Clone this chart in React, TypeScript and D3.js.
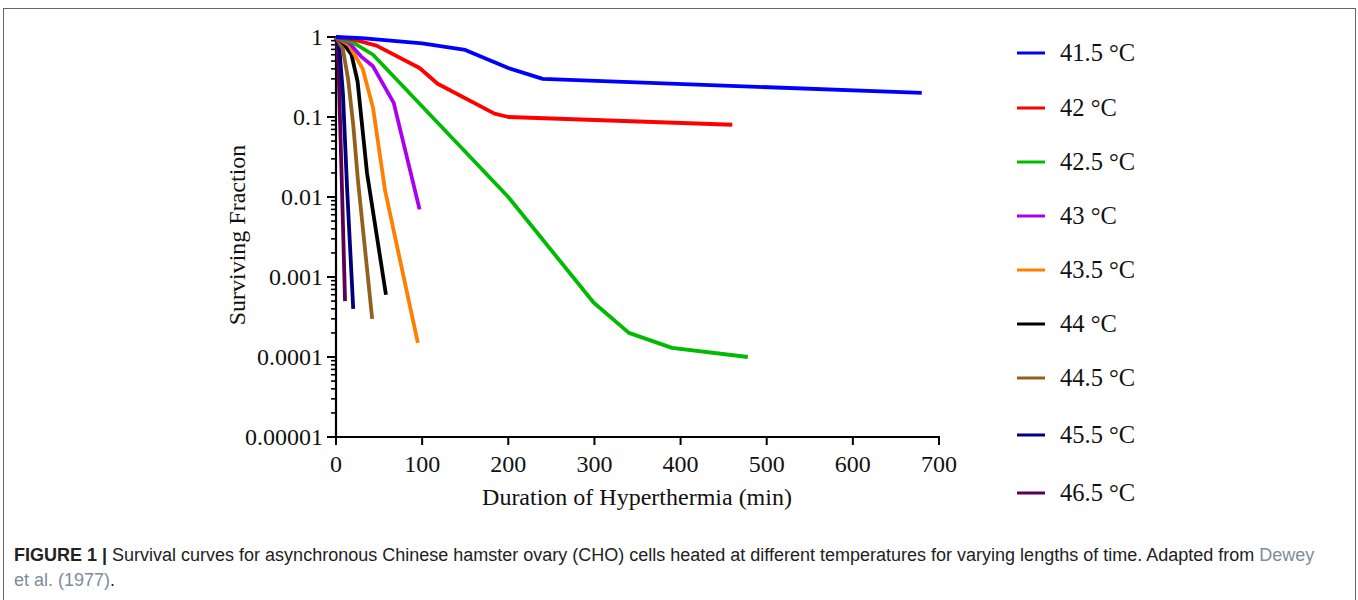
import React, { useRef, useEffect } from 'react';
import * as d3 from 'd3';

// survival data, [minutes, surviving fraction]
const t415 = [[0, 1], [30, 0.97], [100, 0.83], [150, 0.69], [200, 0.41], [240, 0.3], [680, 0.2]];
const t42 = [[0, 1], [20, 0.93], [47, 0.78], [97, 0.41], [118, 0.26], [184, 0.11], [200, 0.1], [460, 0.08]];
const t425 = [[0, 1], [20, 0.85], [43, 0.6], [200, 0.01], [299, 0.00048], [340, 0.0002], [390, 0.00013], [478, 0.0001]];
const t43 = [[0, 1], [15, 0.85], [30, 0.56], [43, 0.43], [67, 0.15], [97, 0.007]];
const t435 = [[0, 1], [15, 0.8], [31, 0.4], [43, 0.13], [57, 0.012], [95, 0.00015]];
const t44 = [[0, 1], [8, 0.85], [18, 0.6], [25, 0.28], [36, 0.02], [58, 0.0006]];
const t445 = [[0, 1], [8, 0.7], [14, 0.3], [20, 0.08], [25.5, 0.016], [42, 0.0003]];
const t455 = [[0, 1], [4, 0.7], [8, 0.2], [13, 0.012], [20, 0.0004]];
const t465 = [[0, 1], [1, 0.85], [3, 0.4], [7, 0.012], [10.5, 0.0005]];

const seriesNames = ['41.5 °C', '42 °C', '42.5 °C', '43 °C', '43.5 °C', '44 °C', '44.5 °C', '45.5 °C', '46.5 °C'];
const seriesData = [t415, t42, t425, t43, t435, t44, t445, t455, t465];
const seriesColors = ['#0000ff', '#ff0000', '#00bb00', '#aa00ee', '#ff8000', '#000000', '#94601f', '#00007f', '#5c0052'];

const xTicks = [0, 100, 200, 300, 400, 500, 600, 700];
const yTicks = [1, 0.1, 0.01, 0.001, 0.0001, 0.00001];
const yTickLabels = ['1', '0.1', '0.01', '0.001', '0.0001', '0.00001'];

const W = 1358;
const H = 600;
const serif = '"Liberation Serif", "Times New Roman", serif';
const sans = '"Liberation Sans", Arial, sans-serif';

function App() {
  const ref = useRef<SVGSVGElement>(null);

  useEffect(() => {
    if (!ref.current) return;
    const svg = d3.select(ref.current);
    svg.selectAll('*').remove();

    // figure frame
    svg.append('rect')
      .attr('x', 3.5).attr('y', 8.5)
      .attr('width', 1352).attr('height', 620)
      .attr('fill', 'none').attr('stroke', '#666').attr('stroke-width', 1);

    const x = d3.scaleLinear().domain([0, 700]).range([336, 939]);
    const y = d3.scaleLog().domain([0.00001, 1]).range([437, 37]);

    const g = svg.append('g');

    // y axis with log minor ticks
    const minor: number[] = [];
    for (let e = -5; e < 0; e++) {
      for (let m = 2; m <= 9; m++) minor.push(m * Math.pow(10, e));
    }
    g.append('g').selectAll('line.minor')
      .data(minor).join('line')
      .attr('x1', 336).attr('x2', 331)
      .attr('y1', d => y(d)).attr('y2', d => y(d))
      .attr('stroke', '#000').attr('stroke-width', 1.6);

    g.append('g').selectAll('line')
      .data(yTicks).join('line')
      .attr('x1', 336).attr('x2', 327)
      .attr('y1', d => y(d)).attr('y2', d => y(d))
      .attr('stroke', '#000').attr('stroke-width', 2);

    g.append('g').selectAll('text')
      .data(yTicks).join('text')
      .attr('x', 323).attr('y', d => y(d) + 8)
      .attr('text-anchor', 'end')
      .attr('font-family', serif).attr('font-size', 24)
      .attr('fill', '#111')
      .text((d, i) => yTickLabels[i]);

    g.append('line')
      .attr('x1', 336).attr('x2', 336).attr('y1', 36).attr('y2', 438)
      .attr('stroke', '#000').attr('stroke-width', 2.2);

    // x axis
    g.append('line')
      .attr('x1', 335).attr('x2', 940).attr('y1', 437).attr('y2', 437)
      .attr('stroke', '#000').attr('stroke-width', 2.2);

    g.append('g').selectAll('line')
      .data(xTicks).join('line')
      .attr('x1', d => x(d)).attr('x2', d => x(d))
      .attr('y1', 437).attr('y2', 445)
      .attr('stroke', '#000').attr('stroke-width', 2);

    g.append('g').selectAll('text')
      .data(xTicks).join('text')
      .attr('x', d => x(d)).attr('y', 472)
      .attr('text-anchor', 'middle')
      .attr('font-family', serif).attr('font-size', 24)
      .attr('fill', '#111')
      .text(d => String(d));

    // axis titles
    g.append('text')
      .attr('x', 637).attr('y', 505)
      .attr('text-anchor', 'middle')
      .attr('font-family', serif).attr('font-size', 24)
      .attr('fill', '#111')
      .text('Duration of Hyperthermia (min)');

    g.append('text')
      .attr('transform', 'translate(245,235) rotate(-90)')
      .attr('text-anchor', 'middle')
      .attr('font-family', serif).attr('font-size', 24)
      .attr('fill', '#111')
      .text('Surviving Fraction');

    // curves
    const line = d3.line<number[]>()
      .x(d => x(d[0]))
      .y(d => y(d[1]));

    const order = d3.range(seriesData.length).reverse();
    g.append('g').selectAll('path')
      .data(order).join('path')
      .attr('d', i => line(seriesData[i]))
      .attr('fill', 'none')
      .attr('stroke', i => seriesColors[i])
      .attr('stroke-width', 3.8)
      .attr('stroke-linejoin', 'round');

    // legend
    const legendY = [53, 108, 162, 216, 270, 324, 378, 435, 493];
    const leg = g.append('g').selectAll('g')
      .data(seriesNames).join('g')
      .attr('transform', (d, i) => `translate(1017,${legendY[i]})`);
    leg.append('line')
      .attr('x1', 0).attr('x2', 28).attr('y1', 0).attr('y2', 0)
      .attr('stroke', (d, i) => seriesColors[i]).attr('stroke-width', 3);
    leg.append('text')
      .attr('x', 43).attr('y', 8)
      .attr('font-family', serif).attr('font-size', 24.5)
      .attr('fill', '#111')
      .text(d => d);

    // caption
    const cap = svg.append('text')
      .attr('x', 14).attr('y', 561)
      .attr('font-family', sans).attr('font-size', 18)
      .attr('fill', '#222');
    cap.append('tspan').attr('font-weight', 'bold').text('FIGURE 1 | ');
    cap.append('tspan').text('Survival curves for asynchronous Chinese hamster ovary (CHO) cells heated at different temperatures for varying lengths of time. Adapted from ');
    cap.append('tspan').attr('fill', '#7d8c99').text('Dewey');

    const cap2 = svg.append('text')
      .attr('x', 14).attr('y', 586)
      .attr('font-family', sans).attr('font-size', 18)
      .attr('fill', '#222');
    cap2.append('tspan').attr('fill', '#7d8c99').text('et al. (1977)');
    cap2.append('tspan').text('.');
  }, []);

  return (
    <svg
      ref={ref}
      width={W}
      height={H}
      style={{ position: 'absolute', left: 0, top: 0, background: '#fff' }}
    />
  );
}

export default App;
